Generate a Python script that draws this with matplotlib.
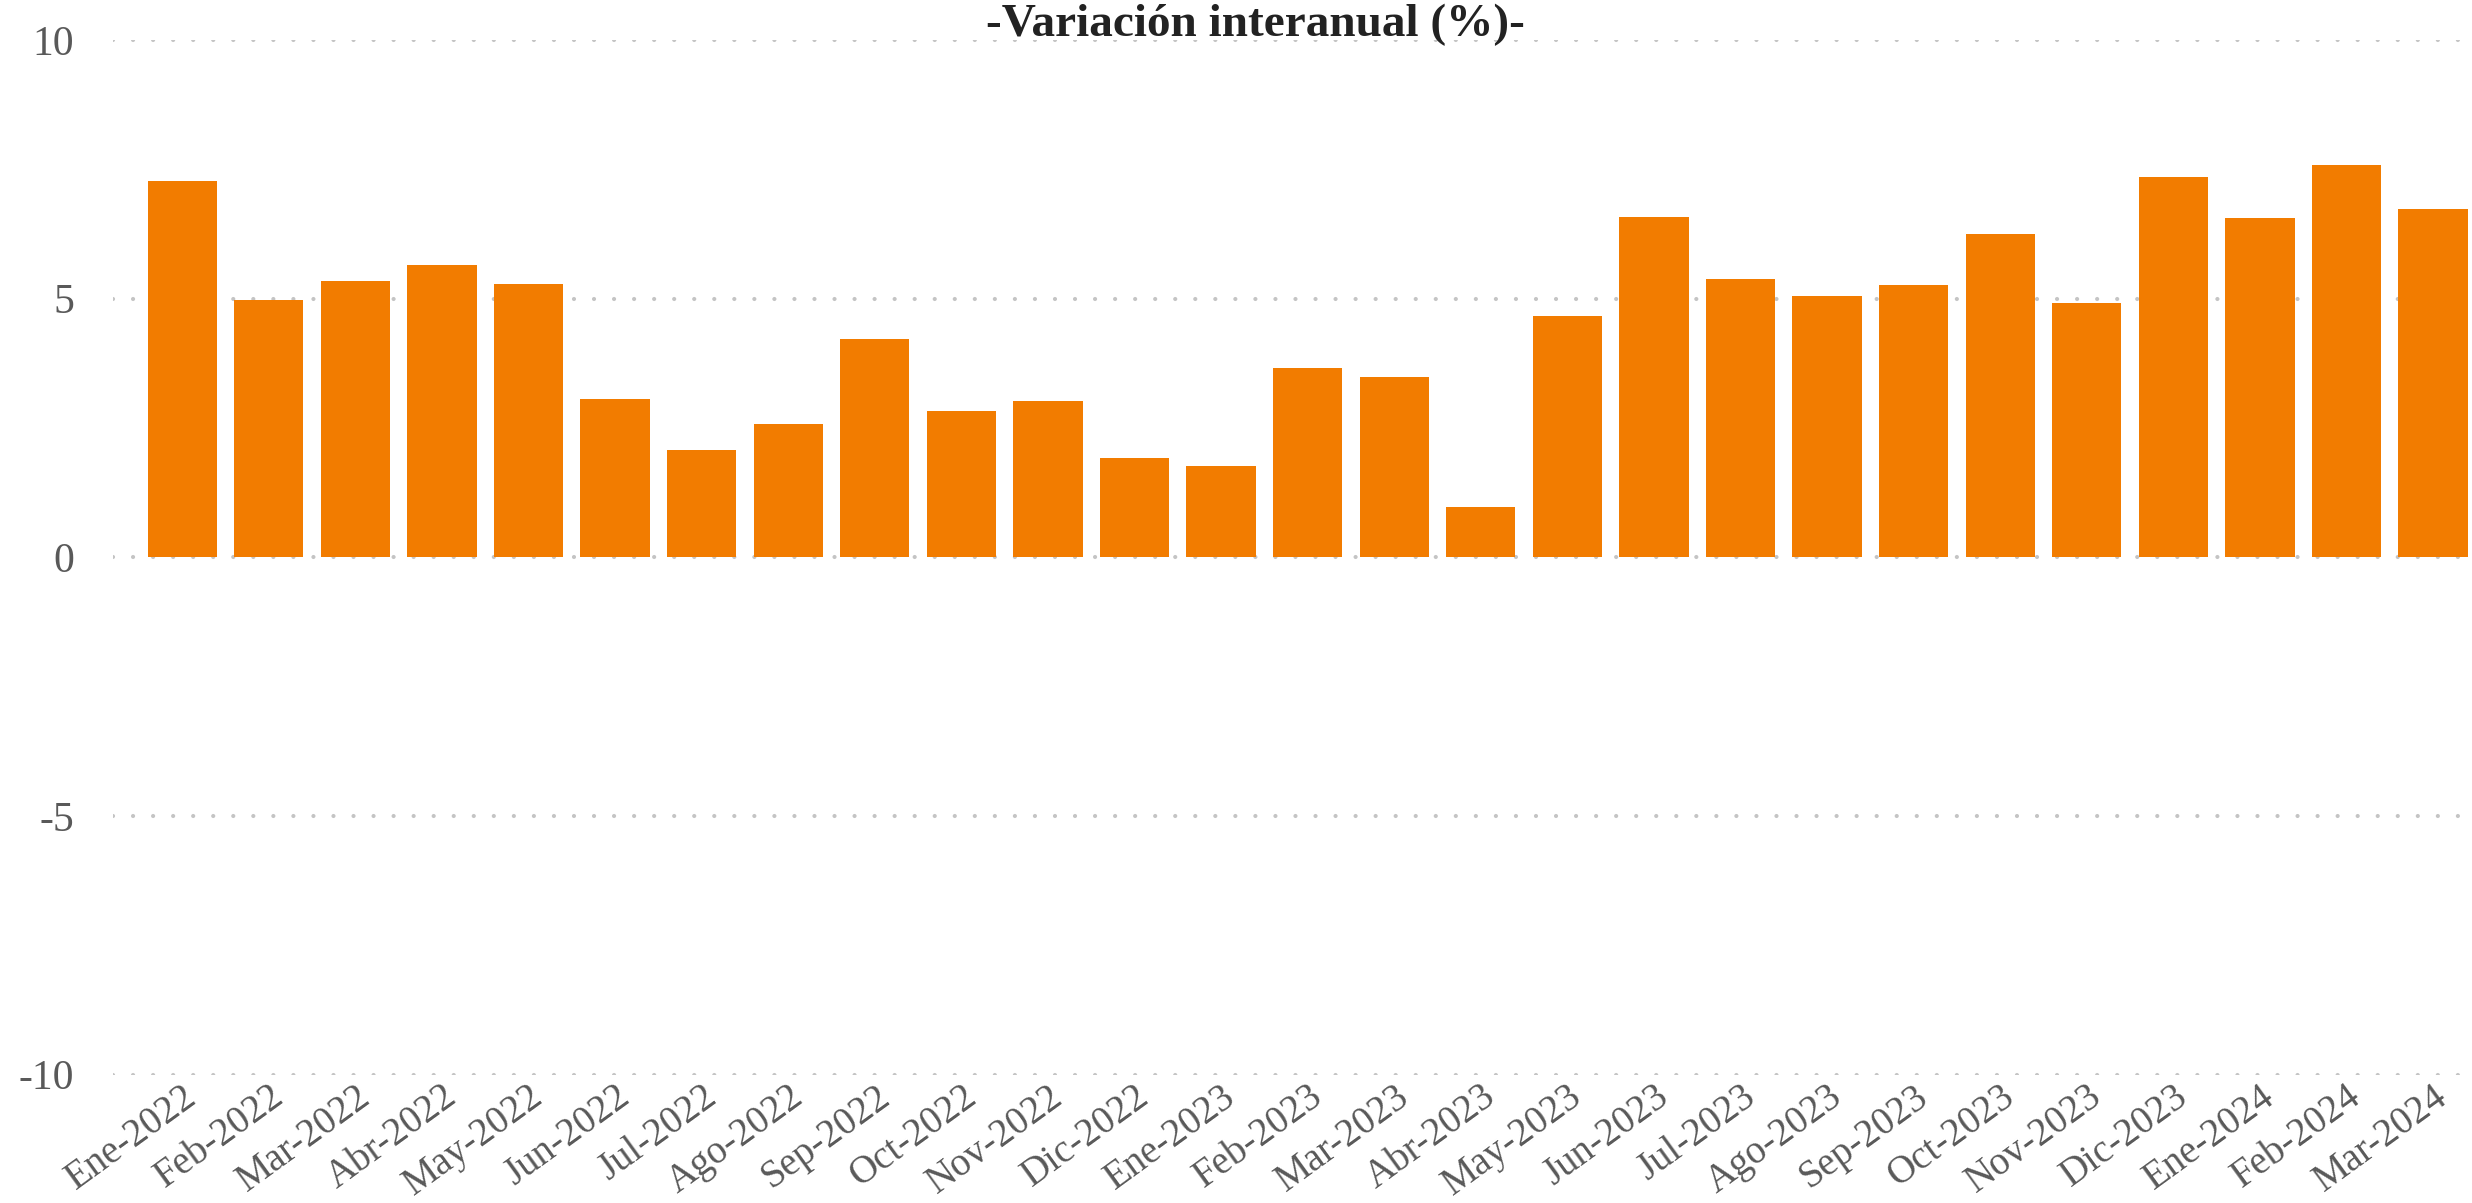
import matplotlib.pyplot as plt

# datos
meses = ['Ene-2022', 'Feb-2022', 'Mar-2022', 'Abr-2022', 'May-2022', 'Jun-2022',
         'Jul-2022', 'Ago-2022', 'Sep-2022', 'Oct-2022', 'Nov-2022', 'Dic-2022',
         'Ene-2023', 'Feb-2023', 'Mar-2023', 'Abr-2023', 'May-2023', 'Jun-2023',
         'Jul-2023', 'Ago-2023', 'Sep-2023', 'Oct-2023', 'Nov-2023', 'Dic-2023',
         'Ene-2024', 'Feb-2024', 'Mar-2024']
variacion = [7.27, 4.97, 5.34, 5.64, 5.28, 3.05, 2.07, 2.57, 4.22, 2.83, 3.02, 1.92,
             1.76, 3.65, 3.48, 0.97, 4.66, 6.58, 5.38, 5.04, 5.26, 6.24, 4.91, 7.34,
             6.55, 7.58, 6.73]
yticks = [-10, -5, 0, 5, 10]

plt.rcParams['font.family'] = ['Liberation Serif', 'DejaVu Serif']

fig = plt.figure(figsize=(24.72, 12.03), dpi=100)
ax = fig.add_axes([0.0457, 0.1067, 0.9543, 0.8602])

x = range(len(meses))
ax.bar(x, variacion, width=0.8, color='#F27C00', zorder=2)

ax.set_ylim(-10, 10)
ax.set_xlim(-0.8, len(meses) - 0.55)
ax.set_yticks(yticks)
ax.set_yticklabels([str(v) for v in yticks], fontsize=30, color='#595959')
ax.set_xticks(list(x))
ax.set_xticklabels(meses, rotation=36, ha='right', va='top', rotation_mode='anchor',
                   fontsize=28, color='#595959')
ax.tick_params(axis='y', length=0, pad=28)
ax.tick_params(axis='x', length=0, pad=2.5)

ax.yaxis.grid(True, color='#c4c4c4', linewidth=3.0, linestyle=(0, (0.01, 4.8)),
              dash_capstyle='round', zorder=1)
ax.set_axisbelow(True)
for s in ax.spines.values():
    s.set_visible(False)

fig.text(0.508, 0.970, '-Variación interanual (%)-', ha='center', va='baseline',
         fontsize=34, fontweight='bold', color='#222222')

fig.savefig('out.png', dpi=100, facecolor='white')
